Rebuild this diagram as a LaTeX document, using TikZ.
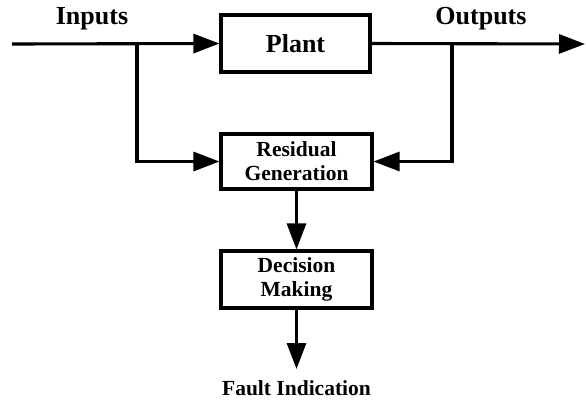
\documentclass[tikz,border=0pt]{standalone}
\usepackage{fontspec}
\setmainfont{Liberation Serif}
\usepackage{tikz}
\usetikzlibrary{arrows.meta, positioning, calc}

\tikzset{
    block/.style={draw, line width=3.1pt, minimum width=149pt, align=center,
        font=\fontsize{21.5}{24}\selectfont\bfseries, inner sep=2pt},
    big/.style={font=\fontsize{26}{30}\selectfont\bfseries},
    flow/.style={line width=3.1pt, -{Triangle[length=26pt,width=19pt]}},
    wire/.style={line width=3.1pt}
}

\begin{document}
\begin{tikzpicture}[x=1pt,y=-1pt]
    \useasboundingbox (0,0) rectangle (586,400);

    % blocks
    \node[block, minimum height=57pt, big] (plant) at (295.5,43.5) {Plant};
    \node[block, minimum height=55pt, minimum width=151pt] (resid) at (296.5,161.5) {Residual\\Generation};
    \node[block, minimum height=57pt, minimum width=151pt] (decis) at (296.5,279.5) {Decision\\Making};

    % labels and free ends
    \node[big] (inlab) at (92,19) {Inputs};
    \node[big] (outlab) at (481,19) {Outputs};
    \coordinate (inend) at (12,44);
    \coordinate (outend) at (585,44);
    \coordinate (inbr) at (137,44);
    \coordinate (outbr) at (452,44);
    \coordinate (faultend) at (296.5,369);
    \node[font=\fontsize{21.5}{24}\selectfont\bfseries] (fault) at (296.5,388) {Fault Indication};

    % connectors
    \draw[flow] (inend) -- (plant.west);
    \draw[flow] (plant.east) -- (outend);
    \draw[flow] (inbr) |- (resid.west);
    \draw[flow] (outbr) |- (resid.east);
    \draw[flow] (resid) -- (decis);
    \draw[flow] (decis) -- (faultend);
\end{tikzpicture}
\end{document}
